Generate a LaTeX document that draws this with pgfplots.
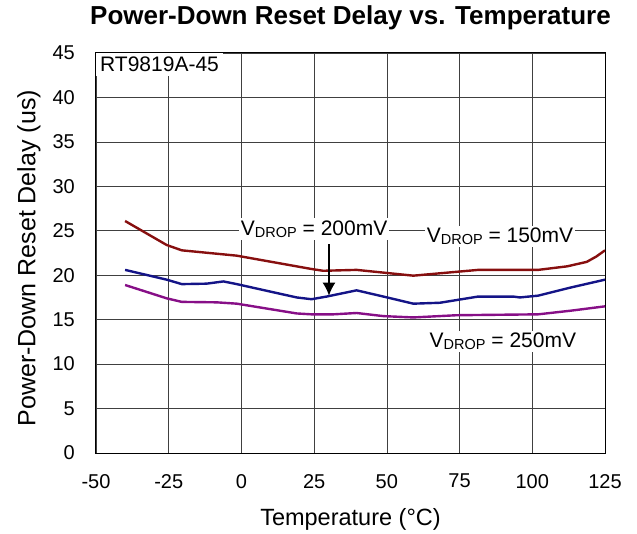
\documentclass[border=0pt]{standalone}
\usepackage{pgfplots}
\pgfplotsset{compat=1.18}
\usetikzlibrary{arrows.meta}
\usepackage{fontspec}
\setmainfont{Liberation Sans}

\definecolor{c150}{RGB}{135,15,15}
\definecolor{c200}{RGB}{20,20,135}
\definecolor{c250}{RGB}{135,15,135}

\newcommand{\vdrop}{V\raisebox{-0.2ex}{\fontsize{14.5}{15}\selectfont DROP}}

\begin{document}
\begin{tikzpicture}
% page: 637 x 533, axis box 509 x 400
\useasboundingbox (-96pt,-80pt) rectangle (541pt,453pt);
\begin{axis}[
    at={(0,0)}, anchor=south west,
    scale only axis,
    width=509pt, height=400pt,
    xmin=-50, xmax=125,
    ymin=0, ymax=45,
    xtick={-50,-25,...,125},
    ytick={0,5,...,45},
    grid=major,
    major grid style={black!75, line width=0.7pt},
    axis line style={black, line width=1pt},
    major tick length=0pt,
    tick label style={font=\fontsize{20}{23}\selectfont, inner sep=0pt},
    /pgf/number format/assume math mode=true,
    xticklabel style={yshift=-21pt},
    yticklabel style={xshift=-21pt},
    title={\bfseries Power-Down Reset Delay vs. Temperature},
    title style={font=\fontsize{26}{29}\selectfont, anchor=base,
        at={([yshift=22pt]axis description cs:0.5,1)}},
    xlabel={Temperature (\textdegree C)},
    ylabel={Power-Down Reset Delay (us)},
    xlabel style={font=\fontsize{23.5}{27}\selectfont, anchor=base,
        at={([yshift=-72pt]axis description cs:0.5,0)}},
    ylabel style={font=\fontsize{25}{28}\selectfont, anchor=center,
        at={([xshift=-67pt]axis description cs:0,0.487)}},
]
% VDROP = 150mV
\addplot[c150, line width=2.4pt] coordinates {
    (-40,26.1) (-25.7,23.4) (-20.5,22.8) (-1.6,22.2) (24.1,20.7) (28.1,20.5)
    (39.6,20.6) (59.1,19.95) (81.4,20.6) (102,20.6) (112,21.0) (118.7,21.5)
    (122,22.1) (125,22.8)
};
% VDROP = 200mV
\addplot[c200, line width=2.4pt] coordinates {
    (-40,20.6) (-25.7,19.5) (-20.5,19.0) (-12,19.05) (-6.2,19.3) (-1.6,19.0)
    (12.1,18.0) (19,17.5) (24.1,17.3) (29.3,17.6) (39.6,18.3) (48.8,17.6)
    (59.1,16.8) (68.2,16.9) (81.4,17.6) (93.5,17.6) (95.7,17.5) (102,17.7)
    (113,18.6) (125,19.5)
};
% VDROP = 250mV
\addplot[c250, line width=2.4pt] coordinates {
    (-40,18.9) (-25.7,17.4) (-20.5,17.0) (-8.5,16.95) (-1.6,16.8) (19,15.7)
    (24.1,15.6) (31.6,15.6) (39.6,15.75) (48.8,15.4) (59.1,15.25) (74,15.5)
    (102,15.6) (113,16.0) (125,16.5)
};

\node[anchor=north west, fill=white, inner sep=4pt, font=\fontsize{21}{24}\selectfont]
    at (axis cs:-50,45) {RT9819A-45};
\node[fill=white, inner sep=2pt, font=\fontsize{21}{24}\selectfont]
    at (axis cs:25,25.2) {\vdrop\ = 200mV};
\node[fill=white, inner sep=2pt, font=\fontsize{21}{24}\selectfont]
    at (axis cs:88.9,24.35) {\vdrop\ = 150mV};
\node[fill=white, inner sep=2pt, font=\fontsize{21}{24}\selectfont]
    at (axis cs:89.9,12.55) {\vdrop\ = 250mV};
\draw[black, line width=1.6pt, -{Latex[length=13pt,width=13pt]}]
    (axis cs:30.1,23.5) -- (axis cs:30.1,17.7);
\end{axis}
\end{tikzpicture}
\end{document}
